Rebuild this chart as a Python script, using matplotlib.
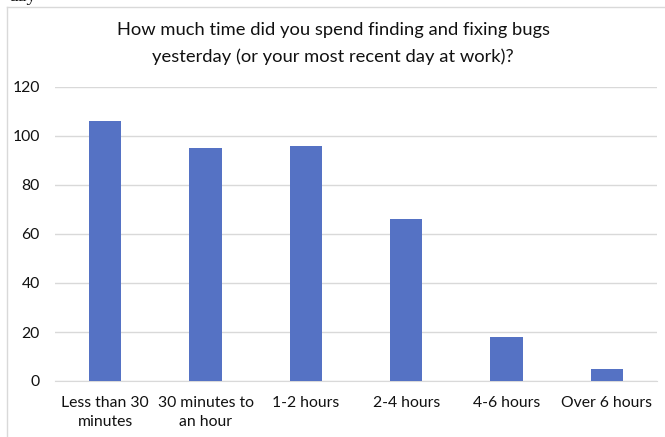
import matplotlib.pyplot as plt
import matplotlib.lines as mlines
import numpy as np

plt.rcParams['font.family'] = ['Lato', 'DejaVu Sans']

# survey answers
categories = ["Less than 30\nminutes", "30 minutes to\nan hour", "1-2 hours",
              "2-4 hours", "4-6 hours", "Over 6 hours"]
counts = [106, 95, 96, 66, 18, 5]
yticks = [0, 20, 40, 60, 80, 100, 120]

fig = plt.figure(figsize=(6.65, 4.37), dpi=100)
W, H = 665, 437
ax = fig.add_axes([55 / W, 1 - 381 / H, (657 - 55) / W, (381 - 87) / H])

x = np.arange(len(categories))
ax.bar(x, counts, width=0.32, color='#5572C4', zorder=3)

ax.set_xlim(-0.5, len(categories) - 0.5)
ax.set_ylim(0, 120)
ax.set_yticks(yticks)
ax.set_xticks(x)
ax.set_xticklabels(categories, fontsize=11.3, color='#111111', linespacing=1.45)
ax.tick_params(axis='y', labelsize=11.3, labelcolor='#111111', length=0, pad=11)
ax.tick_params(axis='x', length=0, pad=11)
ax.grid(axis='y', color='#D9D9D9', linewidth=1, zorder=0)
for s in ['top', 'right', 'left']:
    ax.spines[s].set_visible(False)
ax.spines['bottom'].set_color('#D9D9D9')

# title
fig.text(333 / W, 1 - 30 / H, "How much time did you spend finding and fixing bugs",
         ha='center', va='center', fontsize=13.2, color='#111111')
fig.text(333 / W, 1 - 57 / H, "yesterday (or your most recent day at work)?",
         ha='center', va='center', fontsize=13.2, color='#111111')

# chart box border (left and top visible)
fig.add_artist(mlines.Line2D([6.5 / W, 6.5 / W], [0, 1 - 6.5 / H],
                             transform=fig.transFigure, color='#D9D9D9', lw=1))
fig.add_artist(mlines.Line2D([6.5 / W, 1], [1 - 6.5 / H, 1 - 6.5 / H],
                             transform=fig.transFigure, color='#D9D9D9', lw=1))

# cut-off text from page above
fig.text(8 / W, 1 - 1 / H, "day", ha='left', va='baseline', fontsize=14,
         family='Liberation Serif', color='#111111')

fig.savefig("out.png", dpi=100)
